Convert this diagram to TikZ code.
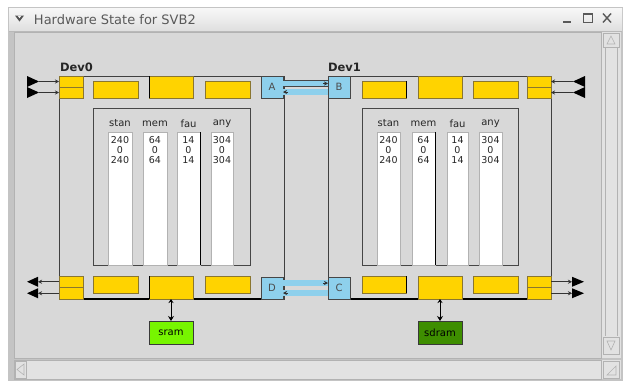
\documentclass[tikz,border=0pt]{standalone}
\usepackage{fontspec}
\setmainfont{DejaVu Sans}
\usetikzlibrary{arrows.meta}

\definecolor{panel}{HTML}{D8D8D8}
\definecolor{frame}{HTML}{C4C4C4}
\definecolor{portyellow}{HTML}{FFD300}
\definecolor{portedge}{HTML}{8A7630}
\definecolor{linkblue}{HTML}{8ED0EC}
\definecolor{sramgreen}{HTML}{77F500}
\definecolor{sdramgreen}{HTML}{3E8E00}
\definecolor{scrollbg}{HTML}{E2E2E2}

\begin{document}
\begin{tikzpicture}[x=1pt,y=-1pt,
  every node/.style={inner sep=0pt, outer sep=0pt},
  yblock/.style={draw=portedge, fill=portyellow, line width=0.6pt, anchor=north west},
  devbox/.style={draw=gray!50!black, line width=0.6pt, anchor=north west},
  innerbox/.style={draw=gray!55!black, line width=0.5pt, anchor=north west, minimum height=157pt},
  colbox/.style={draw=gray!60, fill=white, line width=0.5pt, anchor=north west, minimum height=133pt},
  linkbox/.style={draw=gray!55!black, fill=linkblue, line width=0.6pt, anchor=north west,
    minimum width=22pt, minimum height=22pt, font=\fontsize{10}{10}\selectfont, text=black!70},
  hdr/.style={font=\fontsize{10}{10}\selectfont, text=black!85},
  num/.style={font=\fontsize{9.5}{9.5}\selectfont, text=black!85},
  devlabel/.style={anchor=south west, font=\fontsize{11.5}{11.5}\selectfont\bfseries, text=black!85},
  memnode/.style={draw=gray!45!black, line width=0.6pt, anchor=north west,
    minimum width=44pt, minimum height=23pt, font=\fontsize{10}{10}\selectfont},
  link/.style={draw=gray!55!black, double=linkblue, double distance=5.5pt, line width=0.6pt},
  tip/.style={-{Stealth[length=4pt,width=4pt]}, line width=0.6pt, draw=black!80},
  memlink/.style={{Stealth[length=4pt,width=5pt]}-{Stealth[length=5pt,width=6pt]}, line width=0.7pt},
  chrome/.style={draw=gray!60, line width=0.5pt}
]
\useasboundingbox (0,0) rectangle (624,381);
\fill[white] (0,0) rectangle (624,381);

% ---- window chrome ----
\fill[frame] (8,7) rectangle (623,381);
\shade[top color=white!94!gray, bottom color=gray!25] (9,8) rectangle (622,31);
\draw[gray!55] (9,31) -- (622,31);
\node[anchor=west, font=\fontsize{13}{13}\selectfont, text=gray!70!black] (title) at (34,19.5) {Hardware State for SVB2};
% window menu chevron
\fill[gray!65!black] (15,15.5) -- (24,15.5) -- (19.5,21.5) -- cycle;
\fill[white!90!gray] (17.5,15.5) -- (21.5,15.5) -- (19.5,18.2) -- cycle;
% minimise / maximise / close
\fill[gray!70!black] (563,21) rectangle (571,23);
\draw[gray!70!black, line width=0.9pt] (583,13.5) rectangle (592,22.5);
\draw[gray!70!black, line width=0.9pt] (583,14.5) -- (592,14.5);
\draw[gray!70!black, line width=1.4pt] (603,13.5) -- (611,22.5) (611,13.5) -- (603,22.5);

% content pane
\fill[panel] (14,32) rectangle (601,358);
\draw[gray!60] (14,32) rectangle (601,358);

% vertical scroll bar
\fill[scrollbg] (602,32) rectangle (621,358);
\draw[chrome] (603,33) rectangle (619,47);
\draw[gray!60, line width=0.6pt] (607,44) -- (611,36) -- (615,44) -- cycle;
\draw[chrome] (605,48) -- (605,336);
\draw[chrome] (617,48) -- (617,336);
\draw[chrome] (603,337) rectangle (619,354);
\draw[gray!60, line width=0.6pt] (607,341) -- (611,350) -- (615,341) -- cycle;
% horizontal scroll bar and corner
\fill[scrollbg] (14,360) rectangle (601,379);
\draw[chrome] (14,360) rectangle (601,379);
\draw[chrome] (15,361) rectangle (26,378);
\draw[gray!60, line width=0.6pt] (24,364) -- (17,369.5) -- (24,375) -- cycle;
\fill[scrollbg] (602,360) rectangle (621,379);
\draw[chrome] (603,361) rectangle (619,378);
\draw[gray!60, line width=0.6pt] (607,375) -- (616,366) -- (616,375) -- cycle;

% ---- devices ----
\node[devlabel] (lab0) at (60,72) {Dev0};
\node[devlabel] (lab1) at (328,72) {Dev1};

\node[devbox, minimum width=225pt, minimum height=223pt] (dev0) at (59,76) {};
\node[devbox, minimum width=223pt, minimum height=223pt] (dev1) at (328,76) {};
\draw[line width=1.2pt] (dev0.south west) -- (dev0.south east);
\draw[line width=1.2pt] (dev1.south west) -- (dev1.south east);

% inner status panels
\node[innerbox, minimum width=157pt] (in0) at (93,108) {};
\node[innerbox, minimum width=156pt] (in1) at (362,108) {};

% status columns: x position, width, header, values
\foreach \d/\x/\w/\h/\va/\vb in {
  0/108/24/stan/240/0, 0/143/24/mem/64/0, 0/177/23/fau/14/0, 0/211/22/any/304/0,
  1/377/23/stan/240/0, 1/412/23/mem/64/0, 1/447/21/fau/14/0, 1/479/23/any/304/0} {
  \node[colbox, minimum width=\w pt] (col\d\h) at (\x,132) {};
  \node[hdr] (hd\d\h) at (\x+\w/2,123.5) {\h};
  \node[num] (va\d\h) at (\x+\w/2,140.5) {\va};
  \node[num] (vb\d\h) at (\x+\w/2,150.5) {\vb};
  \node[num] (vc\d\h) at (\x+\w/2,160.5) {\va};
}
\draw[line width=0.9pt] (col0fau.north east) -- (col0fau.south east);
\draw[line width=0.9pt] (col1mem.north east) -- (col1mem.south east);

% top and bottom yellow blocks
\node[yblock, minimum width=45pt, minimum height=17pt] (t0a) at (93,81) {};
\node[yblock, minimum width=44pt, minimum height=22pt] (t0b) at (149,76) {};
\node[yblock, minimum width=45pt, minimum height=17pt] (t0c) at (205,81) {};
\node[yblock, minimum width=45pt, minimum height=17pt] (b0a) at (93,276) {};
\node[yblock, minimum width=44pt, minimum height=23pt] (b0b) at (149,276) {};
\node[yblock, minimum width=45pt, minimum height=17pt] (b0c) at (205,276) {};
\node[yblock, minimum width=44pt, minimum height=17pt] (t1a) at (362,81) {};
\node[yblock, minimum width=44pt, minimum height=22pt] (t1b) at (418,76) {};
\node[yblock, minimum width=45pt, minimum height=17pt] (t1c) at (473,81) {};
\node[yblock, minimum width=44pt, minimum height=17pt] (b1a) at (362,276) {};
\node[yblock, minimum width=44pt, minimum height=23pt] (b1b) at (418,276) {};
\node[yblock, minimum width=45pt, minimum height=17pt] (b1c) at (473,276) {};
\draw[line width=1pt] (t0b.north west) -- (t0b.south west);
\draw[line width=1pt] (b0b.north west) -- (b0b.south west);
\draw[line width=1pt] (t1a.north east) -- (t1a.south east);
\draw[line width=1pt] (b1a.north east) -- (b1a.south east);

% external ports (two lanes each)
\node[yblock, minimum width=24pt, minimum height=11pt] (pl0u) at (59,76) {};
\node[yblock, minimum width=24pt, minimum height=11pt] (pl0l) at (59,87) {};
\node[yblock, minimum width=24pt, minimum height=11.5pt] (pb0u) at (59,276) {};
\node[yblock, minimum width=24pt, minimum height=11.5pt] (pb0l) at (59,287.5) {};
\node[yblock, minimum width=24pt, minimum height=11pt] (pr1u) at (527,76) {};
\node[yblock, minimum width=24pt, minimum height=11pt] (pr1l) at (527,87) {};
\node[yblock, minimum width=24pt, minimum height=11.5pt] (pq1u) at (527,276) {};
\node[yblock, minimum width=24pt, minimum height=11.5pt] (pq1l) at (527,287.5) {};

% link ports
\node[linkbox] (A) at (261,76) {A};
\node[linkbox] (B) at (328,76) {B};
\node[linkbox] (D) at (261,277) {D};
\node[linkbox] (C) at (328,277) {C};

% inter-device links
\draw[link] ([yshift=3.5pt]A.east) -- ([yshift=3.5pt]B.west);
\draw[link] ([yshift=-5pt]A.east) -- ([yshift=-5pt]B.west);
\draw[link] ([yshift=5pt]D.east) -- ([yshift=5pt]C.west);
\draw[link] ([yshift=-5pt]D.east) -- ([yshift=-5pt]C.west);
\draw[tip] ([xshift=-5pt,yshift=3.5pt]B.west) -- ([yshift=3.5pt]B.west);
\draw[tip] ([xshift=5pt,yshift=-5pt]A.east) -- ([yshift=-5pt]A.east);
\draw[tip] ([xshift=-5pt,yshift=5pt]C.west) -- ([yshift=5pt]C.west);
\draw[tip] ([xshift=5pt,yshift=-5pt]D.east) -- ([yshift=-5pt]D.east);

% input sources on the top ports
\coordinate (sl0u) at (39,81.5);
\coordinate (sl0l) at (39,92.5);
\coordinate (sr1u) at (573,81.5);
\coordinate (sr1l) at (573,92.5);
\draw[tip] (sl0u) -- (pl0u.west);
\draw[tip] (sl0l) -- (pl0l.west);
\draw[tip] (sr1u) -- (pr1u.east);
\draw[tip] (sr1l) -- (pr1l.east);
\fill (27,76) -- (sl0u) -- (27,87) -- cycle;
\fill (27,87) -- (sl0l) -- (27,98) -- cycle;
\fill (585,76) -- (sr1u) -- (585,87) -- cycle;
\fill (585,87) -- (sr1l) -- (585,98) -- cycle;

% output sinks on the bottom ports
\coordinate (kb0u) at (38,281.75);
\coordinate (kb0l) at (38,293.25);
\coordinate (kq1u) at (572,281.75);
\coordinate (kq1l) at (572,293.25);
\draw[tip] (pb0u.west) -- (kb0u);
\draw[tip] (pb0l.west) -- (kb0l);
\draw[tip] (pq1u.east) -- (kq1u);
\draw[tip] (pq1l.east) -- (kq1l);
\fill (kb0u) ++(0,-5) -- ++(-11,5) -- ++(11,5) -- cycle;
\fill (kb0l) ++(0,-5) -- ++(-11,5) -- ++(11,5) -- cycle;
\fill (kq1u) ++(0,-5) -- ++(12,5) -- ++(-12,5) -- cycle;
\fill (kq1l) ++(0,-5) -- ++(12,5) -- ++(-12,5) -- cycle;

% memories
\node[memnode, fill=sramgreen] (sram) at (149,321) {sram};
\node[memnode, fill=sdramgreen] (sdram) at (418,321) {sdram};
\draw[memlink] (b0b.south) -- (sram.north);
\draw[memlink] (b1b.south) -- (sdram.north);
\end{tikzpicture}
\end{document}
